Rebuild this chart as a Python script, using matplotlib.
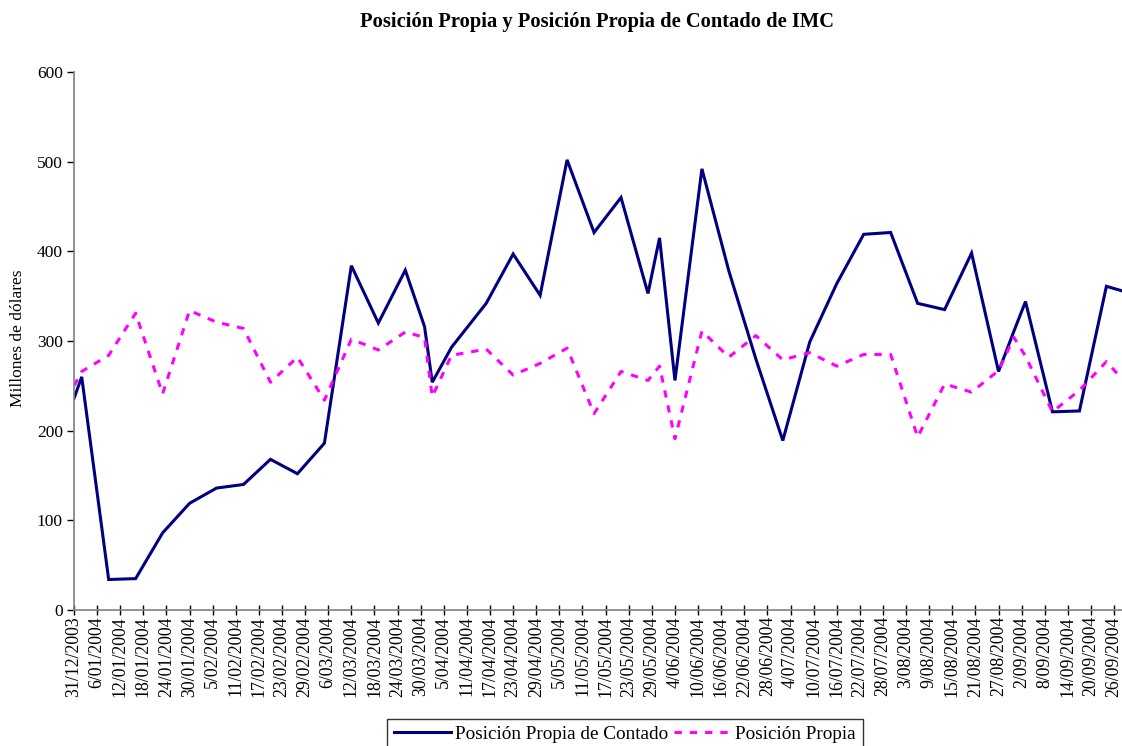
import matplotlib
matplotlib.use("Agg")
import matplotlib.pyplot as plt
import matplotlib.dates as mdates
import pandas as pd
from matplotlib.ticker import FuncFormatter, FixedLocator

plt.rcParams["font.family"] = ["Liberation Serif", "DejaVu Serif"]

# fechas de observación (viernes + fin de mes)
FECHAS = [
    "2003-12-31", "2004-01-02", "2004-01-09", "2004-01-16", "2004-01-23", "2004-01-30",
    "2004-02-06", "2004-02-13", "2004-02-20", "2004-02-27", "2004-03-05", "2004-03-12",
    "2004-03-19", "2004-03-26", "2004-03-31", "2004-04-02", "2004-04-07", "2004-04-16",
    "2004-04-23", "2004-04-30", "2004-05-07", "2004-05-14", "2004-05-21", "2004-05-28",
    "2004-05-31", "2004-06-04", "2004-06-11", "2004-06-18", "2004-06-25", "2004-07-02",
    "2004-07-09", "2004-07-16", "2004-07-23", "2004-07-30", "2004-08-06", "2004-08-13",
    "2004-08-20", "2004-08-27", "2004-08-31", "2004-09-03", "2004-09-10", "2004-09-17",
    "2004-09-24", "2004-09-28",
]

# millones de dólares
CONTADO = [
    236, 260, 34, 35, 86, 119,
    136, 140, 168, 152, 186, 384,
    320, 379, 316, 254, 293, 342,
    397, 351, 502, 421, 460, 353,
    415, 256, 492, 378, 280, 189,
    299, 364, 419, 421, 342, 335,
    398, 266, 311, 344, 221, 222,
    361, 356,
]
PROPIA = [
    250, 266, 284, 331, 241, 334,
    321, 314, 254, 282, 234, 302,
    290, 310, 304, 238, 284, 291,
    262, 275, 292, 219, 266, 256,
    272, 191, 311, 282, 306, 279,
    287, 272, 285, 285, 193, 252,
    243, 267, 304, 283, 221, 245,
    277, 258,
]

TICK_START = "2003-12-31"
TICK_COUNT = 46
TICK_STEP_DAYS = 6
Y_TICKS = [0, 100, 200, 300, 400, 500, 600]

fechas = pd.to_datetime(FECHAS)
ticks = pd.date_range(TICK_START, periods=TICK_COUNT, freq=f"{TICK_STEP_DAYS}D")

fig = plt.figure(figsize=(11.22, 7.46), dpi=100)
ax = fig.add_axes([74 / 1122, 1 - 610 / 746, 1 - 74 / 1122, (610 - 72) / 746])

ax.plot(fechas, CONTADO, color="#000080", lw=2.2, label="Posición Propia de Contado",
        solid_joinstyle="miter")
ax.plot(fechas, PROPIA, color="#FF00FF", lw=2.2, dashes=(2.4, 2.6),
        label="Posición Propia")

ax.set_ylim(0, 600)
ax.set_yticks(Y_TICKS)
ax.set_xlim(mdates.date2num(pd.Timestamp("2003-12-31")),
            mdates.date2num(pd.Timestamp("2004-09-28")) + 0.05)
ax.xaxis.set_major_locator(FixedLocator(mdates.date2num(ticks)))
ax.xaxis.set_major_formatter(FuncFormatter(
    lambda v, pos: (lambda d: f"{d.day}/{d.month:02d}/{d.year}")(mdates.num2date(v))))

ax.tick_params(axis="x", direction="inout", length=7, width=1, pad=1, labelsize=12.8,
               color="black")
ax.tick_params(axis="y", direction="out", length=5, width=1, pad=3, labelsize=12.5,
               color="black")
plt.setp(ax.get_xticklabels(), rotation=90, va="top", ha="center")

for s in ("top", "right"):
    ax.spines[s].set_visible(False)
ax.spines["left"].set_color("#808080")
ax.spines["bottom"].set_color("#808080")
ax.spines["left"].set_linewidth(1.2)
ax.spines["bottom"].set_linewidth(1.2)

fig.text(597 / 1122, 1 - 22 / 746, "Posición Propia y Posición Propia de Contado de IMC",
         ha="center", va="center", fontsize=14.8, fontweight="bold")
fig.text(18 / 1122, 1 - 338 / 746, "Millones de dólares", rotation=90,
         ha="center", va="center", fontsize=12.5)

leg = fig.legend(loc="upper left", bbox_to_anchor=(387 / 1122, 1 - 719 / 746),
                 ncol=2, fontsize=13.8, frameon=True, fancybox=False, borderaxespad=0,
                 borderpad=0.35, handlelength=3.0, handletextpad=0.2, columnspacing=0.3)
leg.get_frame().set_edgecolor("black")
leg.get_frame().set_linewidth(1.0)

fig.savefig("out.png", dpi=100)
